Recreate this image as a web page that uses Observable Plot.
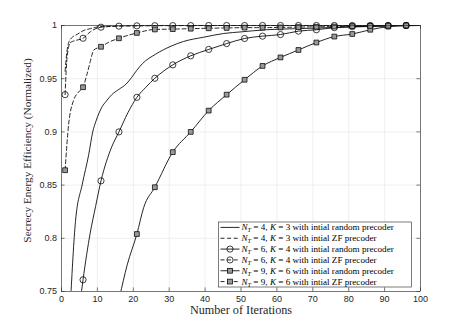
<!DOCTYPE html>
<html><head><meta charset="utf-8">
<script src="https://cdn.jsdelivr.net/npm/d3@7"></script>
<script src="https://cdn.jsdelivr.net/npm/@observablehq/plot@0.6"></script>
<style>body{margin:0;background:#fff} #chart svg{display:block;background:#fff}</style>
</head><body><div id="chart"></div>
<script>
// ---- data ----
const xTicks = [0,10,20,30,40,50,60,70,80,90,100];
const yTicks = [0.75,0.8,0.85,0.9,0.95,1];
const yTickLabels = ["0.75","0.8","0.85","0.9","0.95","1"];
const xLabel = "Number of Iterations";
const yLabel = "Secrecy Energy Efficiency (Normalized)";
const markerIters = [1,6,11,16,21,26,31,36,41,46,51,56,61,66,71,76,81,86,91,96];

// N_T=4, K=3, random init (solid)
const s1x = [2.5,3.9,5.8,7.6,8.7,9.7,11.2,12.5,14,16,18,19.5,21,22.5,26.2,30.8,34,39.6,45.2,50,57,65,75,85,100];
const s1y = [0.74,0.816,0.851,0.879,0.900,0.911,0.923,0.929,0.935,0.940,0.945,0.951,0.958,0.964,0.973,0.981,0.985,0.989,0.9925,0.994,0.996,0.997,0.998,0.999,1.0];
// N_T=4, K=3, ZF init (dashed)
const s2x = [1,1.5,2,3,4,5,6,8,10,12,16,20,30,100];
const s2y = [0.957,0.975,0.984,0.989,0.991,0.993,0.995,0.997,0.9985,0.9992,0.9996,0.9998,1.0,1.0];
// N_T=6, K=4, random init (solid, circles)
const s3x = [5.2,6,8,9.5,11,12.5,14,16,18.5,21,23.5,26,31,36,41,46,51,56,61,66,71,76,81,86,91,96,100];
const s3y = [0.74,0.761,0.805,0.83,0.854,0.872,0.886,0.900,0.918,0.9325,0.942,0.9504,0.963,0.9715,0.9775,0.983,0.9878,0.990,0.9915,0.9947,0.996,0.998,0.999,0.9995,0.9998,1.0,1.0];
// N_T=6, K=4, ZF init (dashed, circles)
const s4x = [1,1.6,2.5,4,6,8,11,16,21,26,31,36,41,46,51,56,61,66,71,76,81,86,91,96,100];
const s4y = [0.935,0.972,0.984,0.986,0.988,0.994,0.9984,0.9994,0.9997,0.9998,0.9999,0.9999,1,1,1,1,1,1,1,1,1,1,1,1,1];
// N_T=9, K=6, random init (solid, squares)
const s5x = [16.2,18.3,21,22.9,26,31,36,41,46,51,56,61,66,71,76,81,86,91,96,100];
const s5y = [0.745,0.775,0.804,0.829,0.848,0.881,0.900,0.920,0.935,0.949,0.962,0.970,0.977,0.984,0.9896,0.992,0.996,0.999,1.0,1.0];
// N_T=9, K=6, ZF init (dashed, squares)
const s6x = [1,2,3.3,5.2,6,7,8,8.4,9,11,13,16,21,26,31,36,41,46,51,56,61,66,71,76,81,86,91,96,100];
const s6y = [0.864,0.9075,0.929,0.939,0.942,0.953,0.966,0.9715,0.977,0.980,0.984,0.988,0.993,0.9963,0.9966,0.997,0.9974,0.9977,0.998,0.998,0.9982,0.9985,0.9988,0.999,0.9993,0.9996,0.9998,1.0,1.0];

const legendN = ["4","4","6","6","9","9"];
const legendK = ["3","3","4","4","6","6"];
const legendInit = ["random","ZF","random","ZF","random","ZF"];
const seriesDashed = [false,true,false,true,false,true];
const seriesSymbol = [null,null,"circle","circle","square","square"];

// ---- build ----
const xs = [s1x,s2x,s3x,s4x,s5x,s6x];
const ys = [s1y,s2y,s3y,s4y,s5y,s6y];
const series = xs.map((arr, s) => arr.map((x, i) => ({x, y: ys[s][i], s})));

const W = 463, H = 327;
const mL = 61, mR = 43, mT = 25, mB = 36;
const pw = W - mL - mR, ph = H - mT - mB;
const tick = 3.6;
const axisColor = "#262626";
const dash = "4,2.6";
const serif = "'Liberation Serif', 'DejaVu Serif', serif";
const sans = "'Liberation Sans', Arial, sans-serif";

const marks = [
  Plot.gridX(xTicks, {stroke: "#e4e4e4", strokeOpacity: 1, strokeWidth: 0.6}),
  Plot.gridY(yTicks, {stroke: "#e4e4e4", strokeOpacity: 1, strokeWidth: 0.6}),
];
series.forEach((data, s) => {
  marks.push(Plot.line(data, {x: "x", y: "y", curve: "monotone-x", stroke: "black",
    strokeWidth: 0.85, strokeDasharray: seriesDashed[s] ? dash : null, clip: true}));
  if (seriesSymbol[s]) {
    marks.push(Plot.dot(data.filter(d => markerIters.includes(d.x)), {x: "x", y: "y",
      symbol: seriesSymbol[s], r: seriesSymbol[s] === "circle" ? 3.1 : 2.7,
      stroke: "black", strokeWidth: 0.75, fill: seriesSymbol[s] === "square" ? "#9a9a9a" : "none"}));
  }
});
marks.push(
  Plot.ruleX(xTicks, {insetTop: ph - tick, stroke: axisColor, strokeWidth: 0.6}),
  Plot.ruleX(xTicks, {insetBottom: ph - tick, stroke: axisColor, strokeWidth: 0.6}),
  Plot.ruleY(yTicks, {insetRight: pw - tick, stroke: axisColor, strokeWidth: 0.6}),
  Plot.ruleY(yTicks, {insetLeft: pw - tick, stroke: axisColor, strokeWidth: 0.6}),
  Plot.frame({stroke: axisColor, strokeWidth: 0.6}),
  Plot.axisX(xTicks, {tickSize: 0, tickPadding: 4, fontSize: 9, fontFamily: sans, fill: axisColor, label: null}),
  Plot.axisY(yTicks, {tickSize: 0, tickPadding: 4.5, fontSize: 9, fontFamily: sans, fill: axisColor, label: null,
    tickFormat: d => yTickLabels[yTicks.findIndex(t => Math.abs(t - d) < 1e-9)]}),
  Plot.text([xLabel], {text: d => d, frameAnchor: "bottom", textAnchor: "middle", dy: 22, fontSize: 12.2, fontFamily: serif, fill: axisColor}),
  Plot.text([yLabel], {text: d => d, frameAnchor: "left", textAnchor: "middle", lineAnchor: "middle", dx: -34, dy: -8, rotate: -90, fontSize: 11.3, fontFamily: serif, fill: axisColor})
);

const svg = Plot.plot({
  width: W, height: H,
  marginLeft: mL, marginRight: mR, marginTop: mT, marginBottom: mB,
  x: {domain: [0, 100]},
  y: {domain: [0.75, 1]},
  style: {background: "#fff", color: "black"},
  marks
});
document.getElementById("chart").append(svg);

// ---- legend ----
const root = d3.select(svg);
const lx = 218.5, ly = 222, lw = 193, lh = 65;
const g = root.append("g").attr("text-anchor", "start");
g.append("rect").attr("x", lx).attr("y", ly).attr("width", lw).attr("height", lh)
  .attr("fill", "white").attr("stroke", axisColor).attr("stroke-width", 0.6);
const rowH = lh / 6;
legendN.forEach((n, i) => {
  const cy = ly + rowH * (i + 0.5);
  g.append("line").attr("x1", lx + 2).attr("x2", lx + 21).attr("y1", cy).attr("y2", cy)
    .attr("stroke", "black").attr("stroke-width", 0.85)
    .attr("stroke-dasharray", seriesDashed[i] ? dash : null);
  const sym = seriesSymbol[i];
  if (sym === "circle") {
    g.append("circle").attr("cx", lx + 11.5).attr("cy", cy).attr("r", 3.1)
      .attr("fill", "none").attr("stroke", "black").attr("stroke-width", 0.75);
  } else if (sym === "square") {
    g.append("rect").attr("x", lx + 11.5 - 2.4).attr("y", cy - 2.4).attr("width", 4.8).attr("height", 4.8)
      .attr("fill", "#9a9a9a").attr("stroke", "black").attr("stroke-width", 0.75);
  }
  const t = g.append("text").attr("x", lx + 23).attr("y", cy).attr("dy", "0.33em")
    .attr("text-anchor", "start")
    .attr("font-family", serif).attr("font-size", 9.1).attr("fill", "black");
  t.append("tspan").attr("font-style", "italic").text("N");
  t.append("tspan").attr("font-style", "italic").attr("font-size", 6.3).attr("dy", 2).text("T");
  t.append("tspan").attr("dy", -2).text(" = " + n + ", ");
  t.append("tspan").attr("font-style", "italic").text("K");
  t.append("tspan").text(" = " + legendK[i] + " with intial " + legendInit[i] + " precoder");
});
</script>
</body></html>
